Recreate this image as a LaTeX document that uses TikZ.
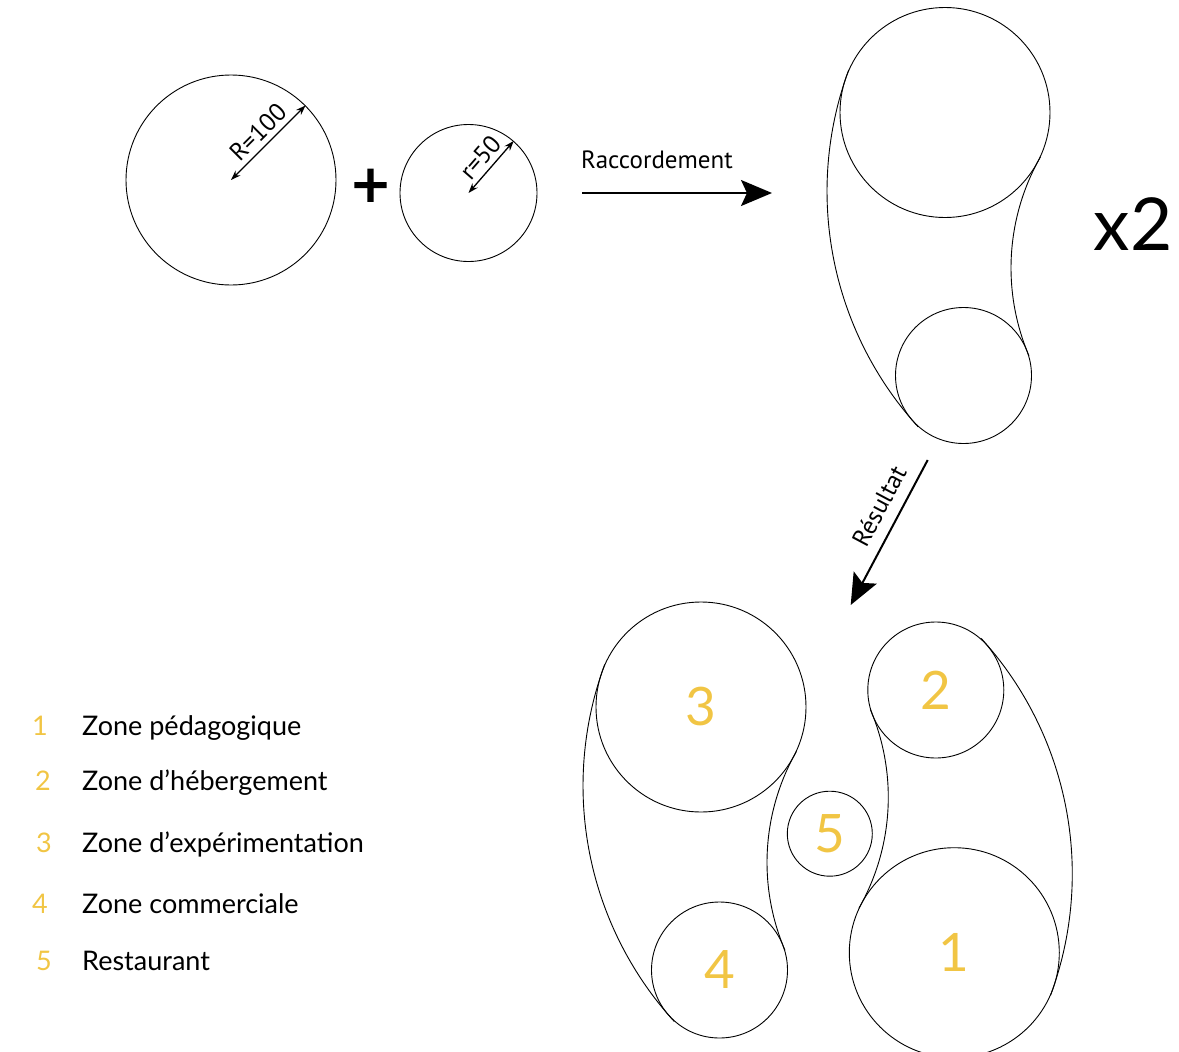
\documentclass[tikz,border=0pt]{standalone}
\usepackage{fontspec}
\setmainfont{Lato}
\newfontfamily\myriad{PT Sans}
\newfontfamily\plusfont[FakeBold=2.5]{Lato}
\usetikzlibrary{arrows.meta,calc}
\definecolor{zoneyellow}{RGB}{241,197,68}
\begin{document}
\begin{tikzpicture}[x=1pt,y=-1pt,
  ring/.style={draw, circle, inner sep=0pt, line width=0.9pt, text=zoneyellow, font=\fontsize{53}{53}\selectfont},
  env/.style={line width=0.9pt},
  dim/.style={{Stealth[length=10pt,width=7pt]}-{Stealth[length=10pt,width=7pt]}, line width=1.3pt},
  bigarrow/.style={-{Stealth[length=31pt,width=26pt,inset=6pt]}, line width=2pt},
  legnum/.style={text=zoneyellow, font=\fontsize{27}{27}\selectfont, anchor=base, inner sep=0pt},
  legtxt/.style={font=\fontsize{27}{27}\selectfont, anchor=base west, inner sep=0pt},
  smalllabel/.style={font=\myriad\fontsize{25}{25}\selectfont},
  kidarcs/.pic={
    \draw[env] (232,78.8) ++(200.3:350) arc[start angle=200.3, end angle=137.7, radius=350];
    \draw[env] (290,155.4) ++(209.7:224) arc[start angle=209.7, end angle=156.9, radius=224];
  }
]
\useasboundingbox (0,0) rectangle (1179,1052);

% --- the two starting circles
\node[ring, minimum size=210pt] (bigc) at (231,180) {};
\node[ring, minimum size=137pt] (smallc) at (468.5,193) {};
\draw[dim] (bigc.center) -- (bigc.45)
  node[midway, above=2pt, sloped, smalllabel, inner sep=3pt] (rlab) {R=100};
\draw[dim] (smallc.center) -- (smallc.49)
  node[midway, above=2pt, sloped, smalllabel, inner sep=3pt] (rlab2) {r=50};
\node[font=\plusfont\fontsize{64}{64}\selectfont, inner sep=0pt] (plus) at (370.5,188) {+};

% --- Raccordement arrow
\coordinate (ra) at (582,193);
\coordinate (rb) at (772,193);
\draw[bigarrow] (ra) -- (rb);
\node[smalllabel] (rac) at (657,160) {Raccordement};

% --- kidney shape (top right)
\node[ring, minimum size=210pt] (t1) at (945,112.5) {};
\node[ring, minimum size=136pt] (t2) at (963.5,375.5) {};
\pic at (945,112.5) {kidarcs};
\node[font=\fontsize{73}{73}\selectfont, inner sep=0pt] (x2) at (1133,224) {x2};

% --- Résultat arrow
\coordinate (sa) at (927.7,460);
\coordinate (sb) at (850.7,605);
\draw[bigarrow] (sa) -- (sb);
\node[smalllabel, rotate=62] (res) at (879,506) {Résultat};

% --- result
\node[ring, minimum size=210pt] (z3) at (701,707) {3};
\node[ring, minimum size=136pt] (z4) at (719.5,970) {4};
\pic at (701,707) {kidarcs};
\node[ring, minimum size=210pt] (z1) at (954.3,952.7) {1};
\node[ring, minimum size=136pt] (z2) at (935.8,690) {2};
\pic[rotate=180] at (954.3,952.7) {kidarcs};
\node[ring, minimum size=85pt] (z5) at (829.8,833.7) {5};

% --- legend
\node[legnum] (n1) at (40,735) {1};
\node[legtxt] (l1) at (82,735) {Zone pédagogique};
\node[legnum] (n2) at (43,790) {2};
\node[legtxt] (l2) at (82,790) {Zone d’hébergement};
\node[legnum] (n3) at (44,852) {3};
\node[legtxt] (l3) at (82,852) {Zone d’expérimentation};
\node[legnum] (n4) at (40,913) {4};
\node[legtxt] (l4) at (82,913) {Zone commerciale};
\node[legnum] (n5) at (44,970) {5};
\node[legtxt] (l5) at (82,970) {Restaurant};
\end{tikzpicture}
\end{document}
